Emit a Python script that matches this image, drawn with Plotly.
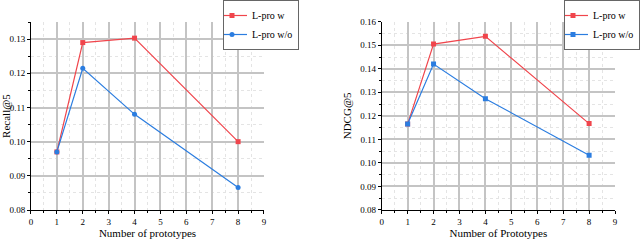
import plotly.graph_objects as go

prototypes = [1, 2, 4, 8]
recall_w = [0.0970, 0.1290, 0.1303, 0.1000]
recall_wo = [0.0970, 0.1215, 0.1080, 0.0866]
ndcg_w = [0.1165, 0.1505, 0.1538, 0.1167]
ndcg_wo = [0.1165, 0.1420, 0.1273, 0.1033]

RED = "#f0454c"
BLUE = "#2b7de0"
FONT = "Liberation Serif"

def trace(x, y, name, color, symbol, xa, ya, leg):
    return go.Scatter(x=x, y=y, name=name, mode="lines+markers",
                      line=dict(color=color, width=1.2),
                      marker=dict(symbol=symbol, size=5, color=color),
                      xaxis=xa, yaxis=ya, legend=leg)

fig = go.Figure()
fig.add_trace(trace(prototypes, recall_w, "L-pro w", RED, "square", "x", "y", "legend"))
fig.add_trace(trace(prototypes, recall_wo, "L-pro w/o", BLUE, "circle", "x", "y", "legend"))
fig.add_trace(trace(prototypes, ndcg_w, "L-pro w", RED, "square", "x2", "y2", "legend2"))
fig.add_trace(trace(prototypes, ndcg_wo, "L-pro w/o", BLUE, "square", "x2", "y2", "legend2"))

xcommon = dict(range=[0, 9], dtick=1, tick0=0, showline=True, linecolor="black", linewidth=1,
               ticks="outside", ticklen=3, tickcolor="black", showgrid=True, gridcolor="#c4c4c4",
               gridwidth=1.6, zeroline=False, tickfont=dict(size=9, family=FONT, color="black"),
               automargin=False,
               minor=dict(dtick=0.5, ticks="outside", ticklen=2, tickcolor="black", showgrid=True,
                          gridcolor="#e4e4e4", griddash="dot", gridwidth=1),
               title=dict(font=dict(size=11, family=FONT, color="black"), standoff=0))
ycommon = dict(showline=True, linecolor="black", linewidth=1, ticks="outside", ticklen=3,
               tickcolor="black", showgrid=True, gridcolor="#c4c4c4", gridwidth=1.6, zeroline=False,
               dtick=0.01, tickformat=".2f", tickfont=dict(size=9, family=FONT, color="black"),
               automargin=False,
               minor=dict(dtick=0.005, ticks="outside", ticklen=2, tickcolor="black", showgrid=True,
                          gridcolor="#e4e4e4", griddash="dot", gridwidth=1),
               title=dict(font=dict(size=11, family=FONT, color="black"), standoff=6))

legcommon = dict(yanchor="top", bordercolor="#666", borderwidth=1,
                 bgcolor="white", font=dict(size=10, family=FONT, color="black"),
                 tracegroupgap=0, itemwidth=30, traceorder="normal", indentation=-12)

fig.update_layout(
    width=640, height=240, margin=dict(l=0, r=0, t=0, b=0, autoexpand=False),
    paper_bgcolor="white", plot_bgcolor="white",
    font=dict(family=FONT, color="black"),
    xaxis=dict(xcommon, domain=[0.0484, 0.4125], anchor="y", title_text="Number of prototypes"),
    yaxis=dict(ycommon, domain=[0.125, 0.908], anchor="x", range=[0.08, 0.135], title_text="Recall@5"),
    xaxis2=dict(xcommon, domain=[0.5964, 0.961], anchor="y2", title_text="Number of Prototypes"),
    yaxis2=dict(ycommon, domain=[0.125, 0.9096], anchor="x2", range=[0.08, 0.16], title_text="NDCG@5"),
    legend=dict(legcommon, x=223/640, xanchor="left", y=1),
    legend2=dict(legcommon, x=1, xanchor="right", y=1),
)

fig.write_html("out.html", config={"displayModeBar": False},
               post_script="document.body.style.margin='0';")
